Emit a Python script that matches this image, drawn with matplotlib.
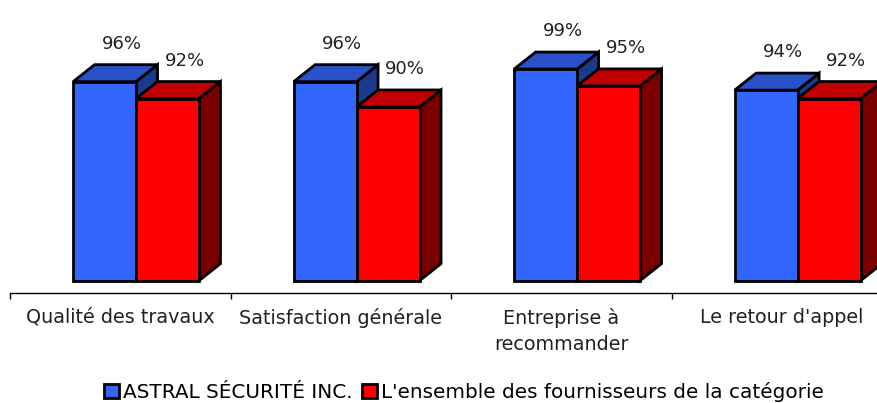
import matplotlib
matplotlib.use("Agg")
import matplotlib.pyplot as plt
from matplotlib.patches import Polygon, Patch
import numpy as np

categories = ["Qualité des travaux", "Satisfaction générale", "Entreprise à\nrecommander", "Le retour d'appel"]
series_names = ["ASTRAL SÉCURITÉ INC.", "L'ensemble des fournisseurs de la catégorie"]
astral = [96, 96, 99, 94]
ensemble = [92, 90, 95, 92]

plt.rcParams['font.family'] = ['DejaVu Sans']

# colours: front, top, side
faces = [
    ("#3366FF", "#2A52C8", "#1C3A8C"),
    ("#FF0000", "#C00000", "#7A0000"),
]

fig = plt.figure(figsize=(8.78, 4.03), dpi=100)
ax = fig.add_axes([10 / 878, 110.3 / 403, 868 / 878, 292.7 / 403])

base = 48.75   # floor of the 3d plot
dx = 0.0975    # depth offset, x
dy = 4.04      # depth offset, y (value units)
width = 0.2855
x = np.arange(len(categories))
lw = 2.0

for s, vals in enumerate([astral, ensemble]):
    front, top, side = faces[s]
    lefts = x - 0.214 + s * width
    for x0, v in zip(lefts, vals):
        x1 = x0 + width
        ax.add_patch(Polygon([(x1, base), (x1, v), (x1 + dx, v + dy), (x1 + dx, base + dy)],
                             closed=True, facecolor=side, edgecolor="black", lw=lw, joinstyle="miter"))
        ax.add_patch(Polygon([(x0, v), (x1, v), (x1 + dx, v + dy), (x0 + dx, v + dy)],
                             closed=True, facecolor=top, edgecolor="black", lw=lw, joinstyle="miter"))
        ax.bar(x0, v - base, width=width, bottom=base, align="edge", color=front,
               edgecolor="black", linewidth=lw)
        ax.annotate(f"{v}%", (x0 + width / 2 + dx * 0.8, v + dy), xytext=(0, 11.5),
                    textcoords="offset points", ha="center", va="baseline", fontsize=13,
                    color="#222222")

ax.set_xlim(-0.5, 3.436)
ax.set_ylim(45.9, 115.4)
for sp in ["top", "right", "left"]:
    ax.spines[sp].set_visible(False)
ax.spines["bottom"].set_linewidth(1.0)
ax.set_yticks([])
ax.set_xticks(x)
ax.set_xticklabels(categories, fontsize=13.8, color="#222222", linespacing=1.45)
ax.tick_params(axis="x", which="major", length=0, pad=11)
ax.set_xticks(np.arange(-0.5, 3.5, 1), minor=True)
ax.tick_params(axis="x", which="minor", length=4, width=1, direction="out")

handles = [Patch(facecolor=faces[i][0], edgecolor="black", linewidth=2.0) for i in range(2)]
fig.legend(handles, series_names, loc="center", bbox_to_anchor=(464 / 878, 11 / 403), ncol=2,
           frameon=False, fontsize=14.4, handlelength=0.75, handleheight=0.75,
           handletextpad=0.2, columnspacing=0.5, borderpad=0)

fig.savefig("out.png", dpi=100)
